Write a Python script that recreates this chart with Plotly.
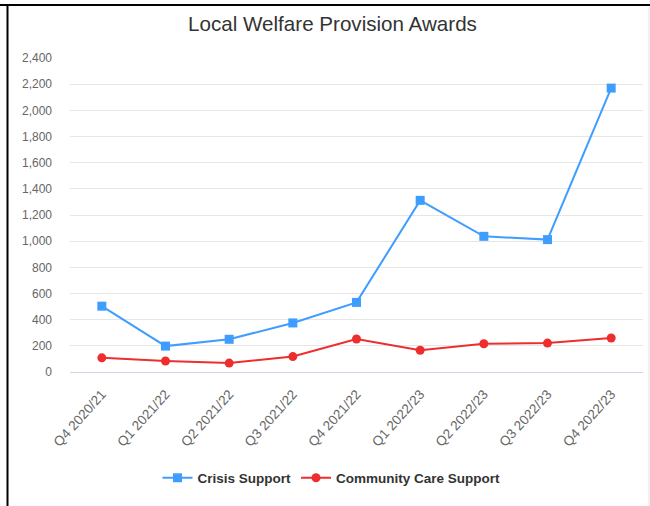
import plotly.graph_objects as go

categories = ["Q4 2020/21", "Q1 2021/22", "Q2 2021/22", "Q3 2021/22", "Q4 2021/22",
              "Q1 2022/23", "Q2 2022/23", "Q3 2022/23", "Q4 2022/23"]
crisis_support = [503, 198, 250, 375, 532, 1312, 1037, 1012, 2170]
community_care = [108, 84, 68, 118, 252, 166, 216, 221, 260]
y_ticks = [0, 200, 400, 600, 800, 1000, 1200, 1400, 1600, 1800, 2000, 2200, 2400]

BLUE = "#3f9dff"
RED = "#ee2e2e"
FONT = "Liberation Sans, Arial, sans-serif"

fig = go.Figure()
fig.add_trace(go.Scatter(
    x=list(range(len(categories))), y=crisis_support, name="Crisis Support",
    mode="lines+markers",
    line=dict(color=BLUE, width=2),
    marker=dict(symbol="square", size=9, color=BLUE),
))
fig.add_trace(go.Scatter(
    x=list(range(len(categories))), y=community_care, name="Community Care Support",
    mode="lines+markers",
    line=dict(color=RED, width=2),
    marker=dict(symbol="circle", size=9, color=RED),
))

L, R, T, B = 70, 7, 58, 134
W, H = 650, 506
pw, ph = W - L - R, H - T - B

def px(x):
    return (x - L) / pw

def py(y):
    return (H - B - y) / ph

shapes = [
    dict(type="line", xref="paper", yref="paper", x0=px(7.5), x1=px(7.5), y0=py(4), y1=py(510),
         line=dict(color="#000000", width=2)),
    dict(type="line", xref="paper", yref="paper", x0=px(0), x1=px(652), y0=py(5), y1=py(5),
         line=dict(color="#000000", width=2)),
    dict(type="line", xref="paper", yref="paper", x0=px(649), x1=px(649), y0=py(7), y1=py(510),
         line=dict(color="#e4e4e4", width=1)),
]

fig.update_layout(
    width=W, height=H,
    margin=dict(l=L, r=R, t=T, b=B),
    paper_bgcolor="white", plot_bgcolor="white",
    font=dict(family=FONT, color="#666666", size=12),
    title=dict(text="Local Welfare Provision Awards", xref="container", x=0.5115, xanchor="center",
               yref="container", y=1 - 24 / H, yanchor="middle",
               font=dict(family=FONT, size=20.6, color="#333333")),
    showlegend=True,
    legend=dict(orientation="h", xref="container", yref="container", x=0.51, xanchor="center",
                y=1 - 478 / H, yanchor="middle", itemwidth=30,
                font=dict(family=FONT, size=13.5, color="#333333", weight="bold"),
                itemsizing="trace", traceorder="normal"),
    xaxis=dict(
        range=[-0.5, len(categories) - 0.5],
        tickmode="array", tickvals=list(range(len(categories))), ticktext=categories,
        tickangle=-48, showgrid=False, showline=True, linecolor="#ccd6eb", linewidth=1,
        zeroline=False, ticks="", ticklabelstandoff=8,
        tickfont=dict(family=FONT, size=13.5, color="#666666"),
    ),
    yaxis=dict(
        range=[0, 2400], tickmode="array", tickvals=y_ticks,
        ticktext=[f"{v:,}" for v in y_ticks],
        showgrid=True, gridcolor="#e6e6e6", gridwidth=1, zeroline=False,
        showline=False, ticks="", ticklabelstandoff=17,
        tickfont=dict(family=FONT, size=12, color="#666666"),
    ),
    shapes=shapes,
)

fig.write_html("out.html", config={"displayModeBar": False},
               post_script="document.body.style.margin='0px';")
